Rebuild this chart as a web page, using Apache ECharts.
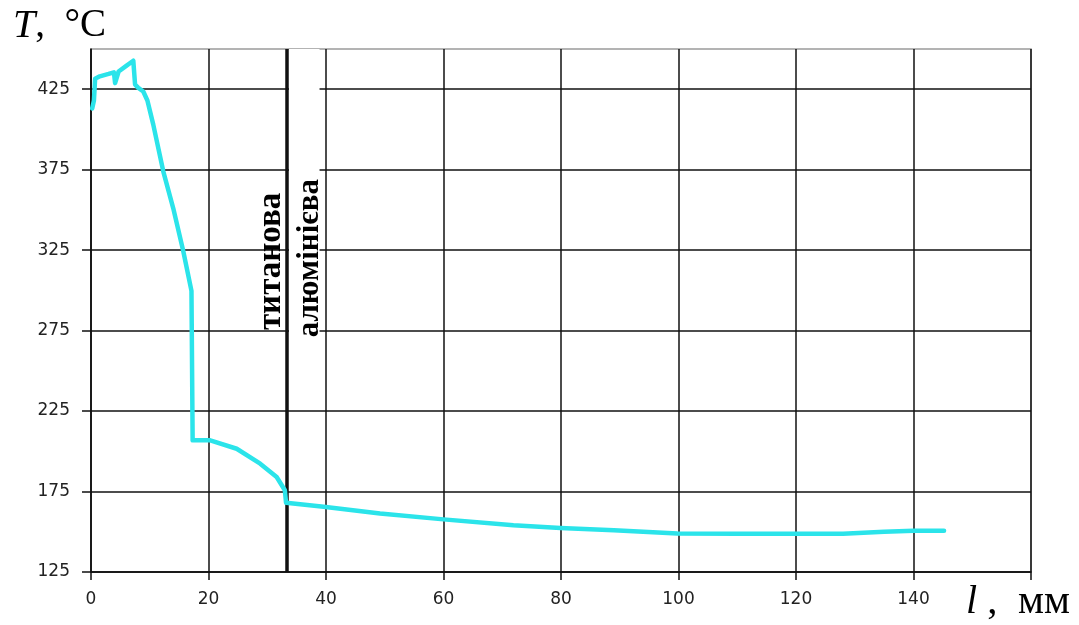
<!DOCTYPE html>
<html><head><meta charset="utf-8">
<script src="https://cdn.jsdelivr.net/npm/echarts@6/dist/echarts.min.js"></script>
<style>html,body{margin:0;padding:0;background:#fff}#c{width:1079px;height:625px}</style>
</head><body><div id="c"></div>
<script>
// data
const lengthMm = [0.2, 0.5, 0.7, 1.5, 3.0, 3.9, 4.1, 4.4, 4.7, 6.0, 7.2, 7.4, 7.5, 8.0, 8.9, 9.6, 10.6, 12.3, 14.0, 15.7, 17.1, 17.3, 20.3, 24.8, 28.8, 31.6, 33.0, 33.2, 39.6, 49.2, 60, 71.9, 79.9, 89, 99.8, 110, 120, 128, 135, 140, 145.2];
const temperature = [413, 418, 431.5, 433, 434.5, 435.5, 428.8, 429, 436, 439.5, 442.7, 443, 428, 426, 423.6, 418, 403, 374, 351, 324.5, 299.7, 206.8, 206.8, 201.6, 192.3, 184, 175.8, 168, 165.5, 161.4, 157.7, 154.1, 152.4, 151, 149, 148.8, 148.8, 148.8, 150, 150.6, 150.6];
const xTicks = [0, 20, 40, 60, 80, 100, 120, 140];
const yTicks = [125, 175, 225, 275, 325, 375, 425];
const interfaceX = 33.3;
const aluBoxX = [33.7, 38.9];
const aluBoxY = [270, 450];
const labelTitanium = 'титанова';
const labelAluminium = 'алюмінієва';
const titlePosT = [30.7, 318];   // data coords of label centres
const titlePosA = [37.2, 320];

const chart = echarts.init(document.getElementById('c'), null, {renderer: 'canvas'});
const dataPairs = lengthMm.map((x, i) => [x, temperature[i]]);
const tickFont = {fontFamily: '"DejaVu Sans", Arial, sans-serif', fontSize: 17, color: '#222'};

const option = {
  animation: false,
  backgroundColor: '#fff',
  grid: {left: 91, right: 48, top: 49, bottom: 53, show: true, borderColor: '#9a9a9a', borderWidth: 1.5, backgroundColor: 'transparent'},
  xAxis: {
    type: 'value', min: 0, max: 160, interval: 20,
    axisLine: {show: true, lineStyle: {color: '#111', width: 1.5}},
    axisTick: {show: true, length: 8, inside: false, lineStyle: {color: '#111', width: 1.5}, customValues: xTicks.concat([160])},
    axisLabel: Object.assign({margin: 19, customValues: xTicks}, tickFont),
    splitLine: {show: true, lineStyle: {color: '#111', width: 1.5}}
  },
  yAxis: {
    type: 'value', min: 125, max: 450,
    axisLine: {show: true, lineStyle: {color: '#111', width: 1.5}},
    axisTick: {show: true, length: 9, inside: false, lineStyle: {color: '#111', width: 1.5}, customValues: yTicks},
    axisLabel: Object.assign({margin: 21, customValues: yTicks}, tickFont),
    splitLine: {show: true, lineStyle: {color: '#111', width: 1.5}}
  },
  series: [{
    type: 'line', data: dataPairs, showSymbol: false, smooth: false, z: 5,
    lineStyle: {color: '#2BE4EA', width: 4.5, cap: 'round', join: 'round'},
    markArea: {silent: true, itemStyle: {color: '#fff', opacity: 1}, label: {show: false},
      data: [[{coord: [aluBoxX[0], aluBoxY[0]]}, {coord: [aluBoxX[1], aluBoxY[1]]}]]},
    markLine: {silent: true, symbol: 'none', label: {show: false},
      lineStyle: {color: '#111', width: 3.5, type: 'solid'},
      data: [{xAxis: interfaceX}]}
  }],
  graphic: []
};
chart.setOption(option);

const pT = chart.convertToPixel({gridIndex: 0}, titlePosT);
const pA = chart.convertToPixel({gridIndex: 0}, titlePosA);
const labelStyle = {fontFamily: '"Liberation Serif", "Times New Roman", serif', fontWeight: 'bold', fontSize: 33, fill: '#000', align: 'center', verticalAlign: 'middle'};
chart.setOption({
  graphic: [
    {type: 'text', x: pT[0], y: pT[1], rotation: Math.PI / 2, z: 20, style: Object.assign({text: labelTitanium}, labelStyle)},
    {type: 'text', x: pA[0], y: pA[1], rotation: Math.PI / 2, z: 20, style: Object.assign({}, labelStyle, {text: labelAluminium, fontSize: 31})},
    {type: 'text', left: 13, top: 6, z: 20, style: {
      text: '{t|T}{r|,  °C}',
      rich: {
        t: {fontFamily: '"Liberation Serif", serif', fontStyle: 'italic', fontSize: 40, fill: '#000'},
        r: {fontFamily: '"Liberation Serif", serif', fontSize: 39, fill: '#000'}
      }
    }},
    {type: 'text', left: 966, top: 582, z: 20, style: {
      text: '{l|l}{r| ,  мм}',
      rich: {
        l: {fontFamily: '"Liberation Serif", serif', fontStyle: 'italic', fontSize: 40, fill: '#000'},
        r: {fontFamily: '"Liberation Serif", serif', fontSize: 41, fill: '#000'}
      }
    }}
  ]
});
</script></body></html>
